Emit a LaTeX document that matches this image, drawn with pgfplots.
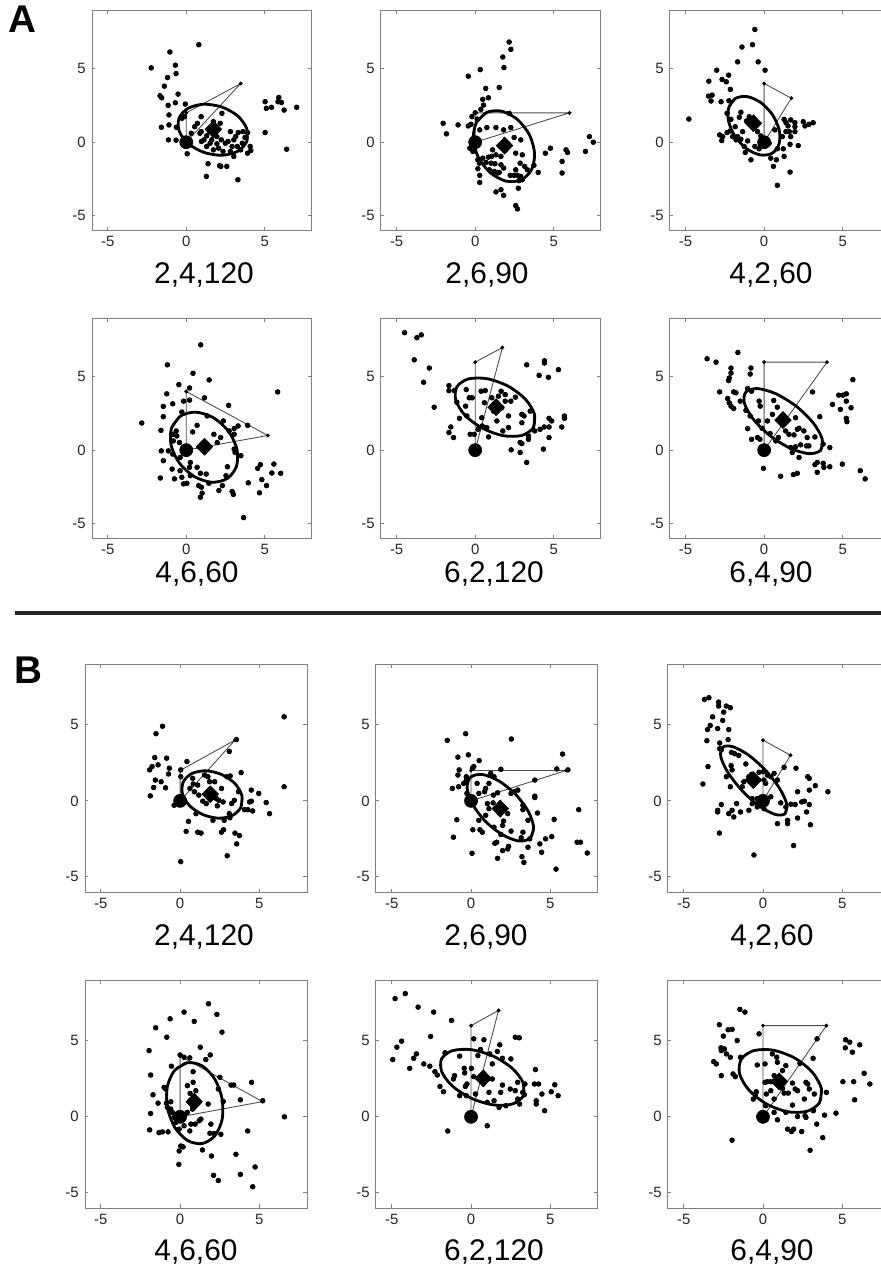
\documentclass[border=0pt]{standalone}
\usepackage{pgfplots}
\pgfplotsset{compat=1.18}
\usepackage{fontspec}
\setmainfont{Liberation Sans}

\pgfplotsset{
  panel/.style={scale only axis, anchor=south west,
    xmin=-6, xmax=8, ymin=-6, ymax=9,
    xtick={-5,0,5}, ytick={-5,0,5},
    xticklabels={-5,0,5}, yticklabels={-5,0,5},
    tick align=inside, major tick length=2pt,
    axis line style={black!50, line width=0.5pt},
    tick style={black!50, line width=0.5pt},
    tick label style={font=\fontsize{8.5}{10}\selectfont, text=black!85}},
  pA/.style={panel, width=4.4cm, height=4.4cm},
  pB/.style={panel, width=4.44cm, height=4.56cm},
  dots/.style={only marks, mark=*, mark size=1.35pt, black},
  ell/.style={smooth, no markers, black, line width=1.6pt},
  tri/.style={no markers, black!70, line width=0.5pt},
  vtx/.style={only marks, mark=*, mark size=0.9pt, black},
  orig/.style={only marks, mark=*, mark size=3.7pt, black},
  mean/.style={only marks, mark=diamond*, mark size=4.8pt, black, mark options={xscale=1.3}},
}
\newcommand{\lab}{\fontsize{17}{20}\selectfont}

\begin{document}
\begin{tikzpicture}[x=0.02cm, y=0.02cm]

% ---------------- A, row 1 ----------------
\begin{axis}[pA, at={(1.84cm,20.76cm)}]
\addplot[dots] coordinates {(0.8,6.65) (-1.04,6.15) (-2.23,5.07) (-0.69,5.25) (-0.65,4.68) (-1.19,4.41) (-1.39,3.82) (-0.52,3.28) (-1.67,3.17) (-1.56,3.03) (-1.15,2.51) (-0.69,2.69) (-0.06,2.6) (-1.1,1.86) (-1.1,1.18) (-1.58,1.02) (-0.63,1.02) (-1.13,0.16) (-0.65,0.14) (-0.28,1.63) (-0.11,1.74) (0.06,-0.79) (1.39,-1.47) (1.28,-2.33) (2.12,-1.6) (2.2,-1.65) (2.58,-1.65) (3.29,-2.56) (5.02,2.76) (5.1,2.31) (5.43,2.38) (5.89,3.05) (5.84,2.76) (6.06,2.71) (6.23,2.19) (7.03,2.38) (5.02,0.66) (6.39,-0.48) (0.95,1.74) (0.71,1.29) (0.95,0.72) (1.3,0.43) (1.13,0.16) (1.62,0.16) (1.95,-0.11) (2.23,0.16) (2.49,-0.07) (2.66,0.05) (3.03,0.16) (3.31,0.66) (3.14,0.38) (3.61,0.72) (3.9,0.66) (3.74,0.32) (4.07,-0.29) (3.9,-0.75) (4.11,-0.57) (3.46,-0.52) (3.03,-0.97) (2.81,-0.63) (2.34,-0.63) (1.73,-0.52) (1.3,-0.29) (0.97,0.05) (1.47,0.72) (1.95,0.84) (2.27,1.97) (1.73,1.4) (2.16,1.29) (2.81,0.72) (0.32,0.61) (0.54,1.06) (0.87,0.61) (1.52,-0.07) (3.25,-0.29) (2.92,-0.29) (3.57,-0.07) (1.95,0.38) (2.06,-0.41)};
\addplot[tri] coordinates {(0,0) (0,2) (3.464,4) (0,0)};
\addplot[vtx] coordinates {(0,2) (3.464,4)};
\addplot[ell] coordinates {(3.86,0.06) (3.85,0.94) (3.27,1.80) (2.26,2.40) (1.11,2.59) (0.11,2.31) (-0.46,1.64) (-0.45,0.76) (0.13,-0.10) (1.14,-0.70) (2.29,-0.89) (3.29,-0.61) (3.86,0.06) (3.85,0.94)};
\addplot[orig] coordinates {(0,0)};
\addplot[mean] coordinates {(1.73,0.88)};
\end{axis}

\begin{axis}[pA, at={(7.62cm,20.76cm)}]
\addplot[dots] coordinates {(2.16,6.83) (2.27,6.33) (1.76,5.81) (1.83,5.09) (0.32,4.95) (-0.44,4.5) (1.53,3.73) (0.67,3.67) (0.84,3.03) (0.48,2.92) (0.53,2.53) (0.36,2.24) (0,2.01) (-0.21,1.74) (-0.44,1.11) (-0.27,1.22) (0.13,1.58) (-2.04,1.29) (-1.83,0.57) (-1.09,1.18) (0.29,0.84) (0.74,1.0) (1.32,1.0) (1.81,0.84) (2.27,1.0) (2.16,1.97) (2.48,0.32) (2.9,0.16) (-0.34,-0.41) (-0.15,-0.63) (0.17,-1.2) (0.27,-1.43) (0.48,-1.09) (0.84,-1.02) (1.11,-0.52) (1.05,-0.97) (1.32,-0.86) (1.26,-1.47) (1.01,-1.43) (0.69,-1.38) (0.17,-1.81) (0.29,-2.26) (0.29,-2.74) (0.9,-1.88) (1.22,-1.99) (1.53,-2.06) (1.64,-1.54) (1.81,-1.76) (1.43,-2.1) (2.23,-2.26) (2.69,-2.26) (2.9,-2.33) (3.0,-2.56) (2.79,-2.62) (2.75,-3.14) (3.15,-1.65) (3.32,-1.88) (3.74,-1.58) (3.0,-0.86) (2.58,-0.75) (2.86,-1.43) (1.32,-3.39) (1.64,-3.24) (1.81,-3.62) (2.58,-4.32) (2.69,-4.55) (2.48,-2.26) (2.58,-1.88) (4.01,-2.06) (4.47,-0.75) (4.79,-0.41) (5.53,-2.1) (5.53,-1.31) (5.78,-0.52) (5.88,-0.7) (7.02,-0.63) (7.27,0.38) (7.52,0) (1.64,-0.97) (1.95,-0.52)};
\addplot[tri] coordinates {(0,0) (0,2) (6,2) (0,0)};
\addplot[vtx] coordinates {(0,2) (6,2)};
\addplot[ell] coordinates {(0.75,2.04) (0.08,1.35) (-0.12,0.23) (0.20,-1.03) (0.96,-2.08) (1.95,-2.65) (2.91,-2.58) (3.58,-1.89) (3.78,-0.77) (3.46,0.49) (2.70,1.54) (1.71,2.11) (0.75,2.04) (0.08,1.35)};
\addplot[orig] coordinates {(0,0)};
\addplot[mean] coordinates {(1.87,-0.23)};
\end{axis}

\begin{axis}[pA, at={(13.4cm,20.76cm)}]
\addplot[dots] coordinates {(-0.59,7.69) (-0.74,6.65) (-1.41,6.49) (-0.38,5.48) (-1.69,5.48) (0.06,4.91) (-3.02,4.91) (-3.52,4.16) (-2.68,4.28) (-2.41,4.12) (-2.26,4.57) (-2.15,3.6) (-3.54,3.14) (-3.31,3.21) (-3.38,2.81) (-2.74,2.76) (-2.24,2.83) (-4.79,1.58) (-2.36,1.97) (-2.11,1.56) (-1.48,2.04) (-1.58,1.7) (-1.84,1.06) (-2.15,0.77) (-2.0,0.38) (-2.83,0.5) (-2.64,0.38) (-2.36,0.66) (-2.7,0.11) (-1.79,0.16) (-1.69,0.38) (-1.48,0.2) (-1.27,-0.29) (-1.2,-0.7) (-0.84,-1.2) (-1.05,0.09) (-1.37,0.72) (-1.12,1.45) (-0.65,1.15) (-0.42,0.72) (-0.21,0.43) (-0.59,-0.29) (-0.32,-0.45) (0.42,-1.09) (0.59,-1.65) (0.78,-1.2) (0.84,-0.45) (1.22,-0.45) (1.27,-0.97) (0.84,-2.94) (1.65,-2.04) (1.65,-0.14) (2.17,-0.23) (1.27,1.56) (1.39,1.33) (1.39,0.72) (1.6,0.72) (1.69,1.52) (1.96,1.33) (1.96,1.06) (1.96,0.72) (1.69,0.38) (1.16,0.38) (2.49,1.4) (2.6,1.11) (2.85,1.22) (3.12,1.33) (1.52,1.11) (0.68,0.84) (0.32,-0.07) (-0.95,1.74)};
\addplot[tri] coordinates {(0,0) (0,4) (1.732,3) (0,0)};
\addplot[vtx] coordinates {(0,4) (1.732,3)};
\addplot[ell] coordinates {(-1.82,2.99) (-2.25,2.37) (-2.26,1.41) (-1.84,0.38) (-1.10,-0.46) (-0.23,-0.87) (0.52,-0.75) (0.95,-0.13) (0.96,0.83) (0.54,1.86) (-0.21,2.70) (-1.07,3.11) (-1.82,2.99) (-2.25,2.37)};
\addplot[orig] coordinates {(0,0)};
\addplot[mean] coordinates {(-0.68,1.29)};
\end{axis}

% ---------------- A, row 2 ----------------
\begin{axis}[pA, at={(1.84cm,14.6cm)}]
\addplot[dots] coordinates {(0.92,7.18) (-1.2,5.82) (0.43,5.24) (1.46,4.79) (-0.47,4.47) (0.21,4.24) (5.82,3.97) (-1.24,3.84) (1.16,3.57) (0.21,3.41) (-0.17,3.34) (-0.86,3.16) (-1.46,2.98) (2.7,3.05) (-0.28,2.6) (-1.46,2.28) (-1.61,1.35) (-2.83,1.85) (-0.64,1.31) (-0.6,0.97) (-0.43,0.52) (-0.86,1.08) (-0.82,0.63) (0.69,1.69) (0.41,1.24) (2.36,1.99) (2.73,1.31) (3.05,1.47) (3.3,1.65) (3.91,1.69) (3.05,1.08) (1.97,0.52) (3.05,0.07) (3.11,-0.16) (3.48,-0.38) (-1.59,-0.05) (-1.46,-0.72) (-1.14,-0.05) (-0.86,-0.27) (-0.39,-0.5) (0.26,-0.84) (0.21,-1.17) (-0.9,-1.29) (-0.39,-1.4) (-1.65,-1.9) (-0.75,-1.96) (-0.28,-1.85) (0.26,-1.74) (-0.17,-2.3) (0.04,-2.26) (0.9,-1.58) (1.27,-1.63) (1.44,-2.26) (0.79,-2.42) (0.97,-2.53) (1.01,-2.93) (0.9,-3.21) (2.08,-2.75) (2.3,-2.42) (2.92,-2.82) (3.0,-3.02) (2.62,-1.13) (2.53,-1.74) (3.95,-2.23) (4.55,-1.24) (4.72,-0.99) (5.58,-0.95) (5.45,-1.56) (6.01,-1.58) (4.81,-2.01) (4.66,-2.91) (5.11,-2.42) (3.65,-4.6) (1.33,2.33) (1.76,1.08) (2.19,0.86) (0.9,0.18) (0.69,-1.17)};
\addplot[tri] coordinates {(0,0) (0,4) (5.196,1) (0,0)};
\addplot[vtx] coordinates {(0,4) (5.196,1)};
\addplot[ell] coordinates {(-0.36,2.33) (-0.94,1.50) (-0.96,0.32) (-0.43,-0.89) (0.53,-1.81) (1.64,-2.19) (2.62,-1.93) (3.20,-1.10) (3.22,0.08) (2.69,1.29) (1.73,2.21) (0.62,2.59) (-0.36,2.33) (-0.94,1.50)};
\addplot[orig] coordinates {(0,0)};
\addplot[mean] coordinates {(1.16,0.23)};
\end{axis}

\begin{axis}[pA, at={(7.62cm,14.6cm)}]
\addplot[dots] coordinates {(-4.49,8.01) (-3.71,7.67) (-3.43,7.86) (-3.88,6.16) (-2.92,5.6) (-3.28,4.63) (-2.61,2.93) (-1.67,4.4) (-1.67,4.06) (-1.33,4.06) (-1.67,1.2) (-1.55,1.58) (-1.38,0.86) (-1.17,3.27) (-1.0,2.17) (-0.57,4.13) (-0.61,3.0) (-0.38,3.57) (-0.19,3.57) (-0.53,2.33) (-0.32,1.08) (-0.06,1.08) (0.19,1.42) (0.38,4.02) (0.64,4.06) (0.42,2.21) (0.59,3.23) (0.45,1.65) (0.85,0.9) (1.17,2.66) (1.06,3.57) (1.48,3.68) (1.65,4.02) (1.91,3.79) (1.91,3.34) (2.27,3.34) (2.56,3.61) (1.76,1.31) (2.12,2.33) (2.12,1.54) (2.97,2.44) (3.11,2.33) (2.97,1.87) (3.28,5.82) (3.79,1.31) (3.39,0.97) (3.39,0.74) (2.86,0.52) (2.97,0.45) (2.86,-0.16) (2.29,0.02) (3.28,-0.84) (4.13,1.42) (4.39,1.58) (4.7,1.58) (4.7,2.17) (4.87,1.99) (5.51,1.58) (5.68,2.33) (5.68,2.17) (4.7,0.86) (4.34,0.07) (4.07,5.1) (4.41,6.09) (4.41,5.94) (4.66,4.97) (5.3,5.49) (3.5,2.66) (0.74,1.54) (1.38,1.99) (1.69,2.89)};
\addplot[tri] coordinates {(0,0) (0,6) (1.732,7) (0,0)};
\addplot[vtx] coordinates {(0,6) (1.732,7)};
\addplot[ell] coordinates {(3.70,1.53) (3.78,2.43) (3.20,3.47) (2.10,4.36) (0.77,4.87) (-0.42,4.86) (-1.16,4.33) (-1.24,3.43) (-0.66,2.39) (0.45,1.50) (1.77,0.99) (2.96,1.00) (3.70,1.53) (3.78,2.43)};
\addplot[orig] coordinates {(0,0)};
\addplot[mean] coordinates {(1.33,2.93)};
\end{axis}

\begin{axis}[pA, at={(13.4cm,14.6cm)}]
\addplot[dots] coordinates {(-3.63,6.23) (-3.06,6.0) (-1.67,6.66) (-2.11,5.6) (-2.11,5.26) (-2.22,4.92) (-2.26,4.74) (-0.84,5.6) (-0.89,5.19) (-2.83,3.97) (-1.94,3.97) (-1.79,3.91) (-2.32,3.52) (-2.22,3.23) (-2.11,3.0) (-1.94,2.84) (-1.52,3.34) (-1.05,4.2) (-0.8,4.02) (-1.16,2.71) (-0.89,2.33) (-1.05,1.47) (-0.8,0.74) (-0.32,3.34) (-0.25,3.0) (-0.36,1.99) (-0.13,1.49) (-0.27,0.74) (-0.42,0.86) (-0.04,-1.24) (0.38,1.13) (0.61,3.39) (0.84,2.93) (0.53,2.44) (0.91,0.86) (0.74,0.63) (1.37,1.31) (1.58,1.08) (1.9,1.04) (2.0,2.21) (2.11,1.42) (2.22,1.49) (1.69,0.18) (1.79,-0.16) (2.0,0.23) (2.32,0.36) (2.7,0.29) (2.85,0.29) (2.74,0.86) (2.53,1.31) (3.23,0.9) (3.08,3.97) (3.54,2.28) (3.76,0.41) (4.18,0.18) (4.35,3.12) (4.75,3.75) (5.02,3.75) (5.23,3.84) (5.23,3.34) (4.85,2.78) (5.53,2.89) (5.23,2.17) (5.27,1.94) (5.65,4.81) (3.23,-0.99) (3.38,-0.84) (3.38,-1.51) (3.76,-0.9) (3.8,-1.17) (4.18,-1.13) (4.98,-0.95) (1.05,-1.78) (1.86,-1.67) (2.11,-1.58) (2.22,-0.5) (6.12,-1.4) (6.43,-1.96) (1.16,1.76) (0.21,1.99)};
\addplot[tri] coordinates {(0,0) (0,6) (4,6) (0,0)};
\addplot[vtx] coordinates {(0,6) (4,6)};
\addplot[ell] coordinates {(3.60,-0.01) (3.70,0.75) (3.13,1.85) (2.06,2.98) (0.76,3.84) (-0.42,4.20) (-1.16,3.97) (-1.26,3.21) (-0.69,2.11) (0.38,0.98) (1.68,0.12) (2.86,-0.24) (3.60,-0.01) (3.70,0.75)};
\addplot[orig] coordinates {(0,0)};
\addplot[mean] coordinates {(1.2,2.05)};
\end{axis}

% ---------------- B, row 1 ----------------
\begin{axis}[pB, at={(1.7cm,7.52cm)}]
\addplot[dots] coordinates {(6.56,5.53) (-1.11,4.91) (-1.52,4.42) (3.55,4.03) (3.1,3.25) (-1.6,2.85) (-0.85,2.81) (-1.39,2.37) (-0.68,2.15) (-1.92,2.04) (-1.77,2.26) (-0.73,1.77) (-1.56,1.37) (-1.2,1.26) (-1.67,0.88) (-0.92,0.86) (-1.88,0.33) (0.04,2.04) (0.43,2.59) (0.04,1.59) (6.56,0.93) (0.79,1.48) (0.83,1.11) (1.11,1.04) (0.62,0.82) (0.9,0.6) (1.18,0.38) (1.54,1.7) (1.75,1.59) (1.86,1.26) (2.18,1.26) (2.61,0.82) (2.29,0.15) (2.44,0.04) (2.71,-0.07) (2.35,-0.33) (3.25,-0.18) (2.95,1.59) (3.16,1.64) (3.85,1.86) (3.68,0.6) (4.49,0.71) (4.96,0.49) (4.38,-0.07) (4.49,-0.02) (4.06,-0.58) (4.27,-0.58) (4.57,-0.66) (5.43,-0.11) (5.64,-0.84) (3.1,-0.84) (2.78,-1.28) (3.14,-1.11) (2.07,-1.28) (1.0,-0.84) (0.53,-1.35) (0.38,-2.01) (1.11,-2.06) (1.32,-2.12) (2.61,-2.06) (2.74,-1.9) (3.46,-2.12) (3.74,-2.28) (3.57,-2.83) (2.97,-3.61) (0.04,-4.0) (-0.38,-0.29) (1.43,-0.02) (1.65,-0.18) (3.42,0.04)};
\addplot[tri] coordinates {(0,0) (0,2) (3.464,4) (0,0)};
\addplot[vtx] coordinates {(0,2) (3.464,4)};
\addplot[ell] coordinates {(3.83,-0.43) (3.90,0.34) (3.46,1.14) (2.63,1.73) (1.65,1.98) (0.76,1.81) (0.21,1.27) (0.14,0.50) (0.58,-0.30) (1.41,-0.89) (2.40,-1.14) (3.28,-0.97) (3.83,-0.43) (3.90,0.34)};
\addplot[orig] coordinates {(0,0)};
\addplot[mean] coordinates {(1.9,0.44)};
\end{axis}

\begin{axis}[pB, at={(7.52cm,7.52cm)}]
\addplot[dots] coordinates {(-0.34,4.42) (-1.5,3.98) (2.54,4.07) (5.77,3.08) (-0.83,2.88) (-0.17,3.03) (0.51,2.65) (-0.75,2.04) (-0.83,1.7) (-0.3,1.59) (0.09,2.15) (0.17,2.26) (1.88,2.08) (5.41,2.1) (6.11,2.04) (-1.18,0.82) (-0.79,0.93) (-0.47,1.15) (-0.3,1.37) (-0.26,0.49) (4.02,1.37) (1.24,1.81) (1.45,1.59) (1.13,1.15) (0.92,0.82) (0.38,1.15) (0.49,0.49) (0.85,0.6) (1.03,-0.18) (1.13,-0.51) (1.39,-0.13) (1.41,0.38) (1.67,0.53) (2.52,0.49) (2.74,0.6) (2.95,0.71) (3.27,-0.29) (3.27,-0.58) (4.02,0.31) (4.02,0.22) (4.19,-0.8) (2.31,-0.84) (2.05,-1.33) (1.99,-1.62) (1.45,-1.73) (0.92,-0.95) (0.49,-1.28) (0.56,-1.9) (0.71,-2.06) (0.11,-1.9) (-0.9,-1.24) (-1.11,-2.39) (0.06,-3.45) (1.88,-2.21) (2.52,-1.99) (3.16,-2.43) (3.27,-2.06) (3.7,-2.5) (1.5,-2.79) (1.62,-2.72) (1.99,-3.27) (2.31,-3.16) (2.37,-2.99) (1.67,-3.78) (3.21,-3.67) (3.33,-4.05) (3.59,-3.05) (4.34,-2.83) (4.45,-3.38) (4.7,-2.5) (5.09,-2.35) (5.24,-1.22) (5.36,-4.49) (6.69,-2.72) (6.9,-2.72) (6.79,-0.58) (7.33,-3.43) (3.59,-1.28)};
\addplot[tri] coordinates {(0,0) (0,2) (6,2) (0,0)};
\addplot[vtx] coordinates {(0,2) (6,2)};
\addplot[ell] coordinates {(3.73,-2.46) (3.95,-1.75) (3.61,-0.69) (2.80,0.44) (1.74,1.32) (0.70,1.74) (-0.03,1.56) (-0.25,0.85) (0.09,-0.21) (0.90,-1.34) (1.97,-2.22) (3.00,-2.64) (3.73,-2.46) (3.95,-1.75)};
\addplot[orig] coordinates {(0,0)};
\addplot[mean] coordinates {(1.84,-0.51)};
\end{axis}

\begin{axis}[pB, at={(13.36cm,7.52cm)}]
\addplot[dots] coordinates {(-3.69,6.68) (-3.41,6.79) (-2.8,6.5) (-2.8,6.24) (-2.31,6.24) (-2.06,6.13) (-2.48,5.84) (-3.18,5.53) (-2.54,5.29) (-3.33,4.96) (-3.5,4.69) (-2.86,4.76) (-2.16,4.69) (-3.54,3.96) (-2.2,4.03) (-2.73,3.81) (-2.73,3.43) (-2.63,3.36) (-1.99,3.19) (-1.78,3.1) (-1.53,2.99) (-3.47,2.26) (-2.01,2.32) (-1.95,2.04) (-1.08,2.43) (-2.31,1.59) (-3.79,1.11) (-2.06,0.93) (-1.31,0.93) (-1.21,1.26) (-0.89,1.59) (-0.72,1.75) (-0.25,1.88) (0.02,1.92) (0.28,1.7) (0.49,1.59) (0.06,1.37) (0.17,1.15) (0.7,1.81) (0.91,1.37) (1.33,2.21) (2.08,2.15) (2.82,1.59) (2.92,1.48) (2.92,0.71) (3.3,1.0) (4.09,0.6) (2.18,0.6) (1.12,-0.13) (1.44,-0.4) (1.76,-0.22) (2.03,-0.24) (2.44,-0.07) (2.61,-0.02) (2.92,-0.24) (2.75,-0.73) (2.99,-1.57) (2.18,-1.13) (1.55,-1.28) (1.55,-1.5) (0.91,-1.5) (1.93,-2.94) (0.06,-0.51) (-0.36,-0.4) (-0.89,-0.62) (-0.68,-0.18) (-1.67,-0.18) (-1.95,-0.62) (-2.16,-0.84) (-1.84,-1.06) (-1.42,-0.73) (-2.86,-0.62) (-2.86,-0.73) (-2.63,-0.24) (-2.75,-2.12) (-0.57,-3.56) (-0.36,0.15) (-0.68,0.15) (0.49,0.27)};
\addplot[tri] coordinates {(0,0) (0,4) (1.732,3) (0,0)};
\addplot[vtx] coordinates {(0,4) (1.732,3)};
\addplot[ell] coordinates {(1.39,-0.85) (1.50,-0.22) (1.05,0.82) (0.16,2.01) (-0.92,3.02) (-1.92,3.57) (-2.55,3.53) (-2.66,2.90) (-2.21,1.86) (-1.32,0.67) (-0.24,-0.34) (0.76,-0.89) (1.39,-0.85) (1.50,-0.22)};
\addplot[orig] coordinates {(0,0)};
\addplot[mean] coordinates {(-0.61,1.37)};
\end{axis}

% ---------------- B, row 2 ----------------
\begin{axis}[pB, at={(1.7cm,1.2cm)}]
\addplot[dots] coordinates {(1.79,7.44) (0.25,6.89) (2.32,6.74) (0.89,6.28) (-0.63,6.45) (-1.54,5.86) (2.64,5.57) (-0.84,5.24) (-1.96,4.36) (1.27,4.58) (1.9,4.07) (0,4.07) (0.25,3.92) (0.61,3.88) (1.62,3.77) (-0.55,3.33) (0.82,2.97) (-1.86,2.75) (2.51,2.6) (3.21,2.09) (3.38,2.09) (4.51,2.27) (-1.01,1.94) (-0.91,1.83) (0.82,2.27) (0.46,2.05) (0.63,1.54) (0.99,1.72) (2.41,1.83) (-1.71,1.45) (-1.39,0.9) (-0.86,0.9) (-0.59,0.99) (-0.8,0.62) (-0.59,0.51) (-0.49,0.29) (-1.86,0.22) (-0.38,-0.04) (-0.27,-0.37) (-0.06,-0.81) (0.25,-0.59) (0.68,-0.48) (0.95,-0.48) (1.2,-0.26) (0.61,-0.93) (1.77,0.84) (2.72,1.01) (3.8,1.12) (5.21,1.06) (6.58,0) (-1.92,-0.86) (-1.33,-1.04) (-1.12,-0.99) (-0.76,-0.99) (1.94,-0.48) (1.88,-1.08) (2.15,-1.1) (2.57,-1.15) (4.26,-0.93) (0.04,-1.92) (0.19,-1.98) (-0.06,-2.25) (1.41,-2.18) (1.98,-2.58) (3.52,-2.47) (-0.08,-3.13) (4.73,-3.3) (2.11,-3.85) (2.41,-4.19) (3.8,-3.79) (4.58,-4.6) (0.46,0.29) (0.78,0.51) (1.31,-0.15)};
\addplot[tri] coordinates {(0,0) (0,4) (5.196,1) (0,0)};
\addplot[vtx] coordinates {(0,4) (5.196,1)};
\addplot[ell] coordinates {(0.45,3.56) (-0.35,3.05) (-0.81,1.97) (-0.80,0.60) (-0.34,-0.69) (0.47,-1.56) (1.39,-1.76) (2.19,-1.25) (2.65,-0.17) (2.64,1.21) (2.18,2.49) (1.38,3.36) (0.45,3.56) (-0.35,3.05)};
\addplot[orig] coordinates {(0,0)};
\addplot[mean] coordinates {(0.89,0.99)};
\end{axis}

\begin{axis}[pB, at={(7.52cm,1.2cm)}]
\addplot[dots] coordinates {(-4.79,7.78) (-4.15,8.11) (-3.34,7.22) (-2.36,6.89) (-1.23,6.34) (-2.55,5.29) (-4.38,4.98) (-4.68,4.58) (-3.45,4.14) (-3.62,3.85) (-4.94,3.77) (-3.87,3.19) (-2.98,3.48) (-2.6,3.33) (-2.28,2.97) (-2.13,2.75) (-1.96,2.0) (-1.74,1.65) (-1.64,4.21) (-1.04,2.71) (-1.11,2.49) (-0.72,3.99) (-0.43,3.19) (-0.4,2.89) (-0.26,2.16) (-0.36,2.0) (-0.72,1.39) (-0.3,1.39) (0.02,3.19) (0.17,2.64) (0.43,4.03) (0.81,5.07) (0.6,4.43) (1.17,4.14) (1.81,4.74) (1.66,4.3) (1.34,3.48) (1.98,3.85) (2.51,3.81) (2.79,5.24) (3.04,5.2) (1.98,2.09) (2.47,1.83) (2.79,1.72) (1.87,1.61) (1.13,1.61) (0.28,1.5) (1.02,0.95) (1.45,1.06) (1.77,0.62) (2.19,0.73) (2.94,1.17) (3.06,0.84) (3.4,2.16) (3.26,1.61) (3.36,1.45) (4.06,3.11) (4.0,2.16) (4.26,2.16) (4.47,1.5) (4.11,1.06) (4.11,0.84) (4.64,0.4) (5.06,1.65) (5.28,2.11) (5.49,1.39) (-1.47,-0.93) (1.02,-0.59) (2.94,2.27) (0.17,5.13) (1.34,2.49)};
\addplot[tri] coordinates {(0,0) (0,6) (1.732,7) (0,0)};
\addplot[vtx] coordinates {(0,6) (1.732,7)};
\addplot[ell] coordinates {(3.30,1.39) (3.28,2.26) (2.58,3.21) (1.38,4.00) (0.00,4.42) (-1.19,4.35) (-1.86,3.81) (-1.84,2.94) (-1.14,1.99) (0.06,1.20) (1.44,0.78) (2.63,0.85) (3.30,1.39) (3.28,2.26)};
\addplot[orig] coordinates {(0,0)};
\addplot[mean] coordinates {(0.77,2.53)};
\end{axis}

\begin{axis}[pB, at={(13.36cm,1.2cm)}]
\addplot[dots] coordinates {(-1.46,7.07) (-1.14,6.89) (-2.75,6.06) (-2.2,5.73) (-1.95,5.75) (-2.5,5.31) (-1.63,5.02) (-0.25,5.46) (-2.65,4.54) (-2.44,4.47) (-2.63,4.36) (-2.31,4.14) (-2.06,3.92) (-1.42,3.92) (-3.11,3.63) (-2.94,3.48) (-2.63,2.71) (-1.89,2.82) (-1.74,2.64) (-0.36,3.41) (0.13,3.48) (0.59,4.14) (0.87,3.92) (0.91,3.59) (1.23,3.04) (1.44,3.37) (2.33,3.52) (3.16,3.85) (3.41,5.13) (0.13,2.27) (0.28,2.31) (0.49,2.31) (0.7,2.71) (1.02,2.38) (1.23,1.87) (1.33,1.56) (1.59,1.56) (1.86,2.22) (2.03,1.83) (2.18,1.72) (2.71,2.27) (2.82,2.16) (2.92,1.83) (2.61,1.17) (3.24,1.5) (4.0,1.61) (-0.42,1.65) (-0.47,1.5) (0.21,1.5) (0.49,1.72) (0.7,1.17) (0.17,0.73) (0.7,0.29) (0.91,-0.2) (1.44,0.29) (1.86,0.77) (2.18,0.02) (2.65,0.07) (2.71,-0.04) (3.18,0.4) (3.88,0.11) (4.6,0.24) (3.39,-0.48) (1.55,-0.81) (1.8,-0.97) (1.93,-0.81) (2.44,-0.97) (3.77,-1.37) (2.97,-2.2) (-1.95,-1.54) (-0.61,1.17) (5.21,5.07) (5.47,4.91) (5.64,4.25) (5.19,4.54) (6.1,4.74) (5.04,2.31) (5.72,2.31) (6.38,2.86) (6.74,2.16) (5.78,1.12) (-0.04,-0.26) (-0.04,-0.04)};
\addplot[tri] coordinates {(0,0) (0,6) (4,6) (0,0)};
\addplot[vtx] coordinates {(0,6) (4,6)};
\addplot[ell] coordinates {(3.57,0.94) (3.68,1.88) (3.09,2.96) (1.98,3.88) (0.62,4.39) (-0.60,4.35) (-1.37,3.79) (-1.48,2.84) (-0.89,1.76) (0.23,0.84) (1.58,0.33) (2.80,0.37) (3.57,0.94) (3.68,1.88)};
\addplot[orig] coordinates {(0,0)};
\addplot[mean] coordinates {(1.02,2.33)};
\end{axis}

% panel titles, letters and separator
\node[font=\lab] at (204,993) {2,4,120};
\node[font=\lab] at (487,993) {2,6,90};
\node[font=\lab] at (771,993) {4,2,60};
\node[font=\lab] at (197,694) {4,6,60};
\node[font=\lab] at (494,694) {6,2,120};
\node[font=\lab] at (771,694) {6,4,90};
\node[font=\lab] at (204,331) {2,4,120};
\node[font=\lab] at (486,331) {2,6,90};
\node[font=\lab] at (772,331) {4,2,60};
\node[font=\lab] at (196,16) {4,6,60};
\node[font=\lab] at (494,16) {6,2,120};
\node[font=\lab] at (772,16) {6,4,90};
\node[font=\fontsize{22}{26}\selectfont\bfseries] at (22,1249) {A};
\node[font=\fontsize{22}{26}\selectfont\bfseries] at (28,598) {B};
\draw[line width=1.8pt, black!85] (15,655) -- (881,655);

\pgfresetboundingbox
\path[use as bounding box] (0,0) rectangle (881,1268);
\end{tikzpicture}
\end{document}
